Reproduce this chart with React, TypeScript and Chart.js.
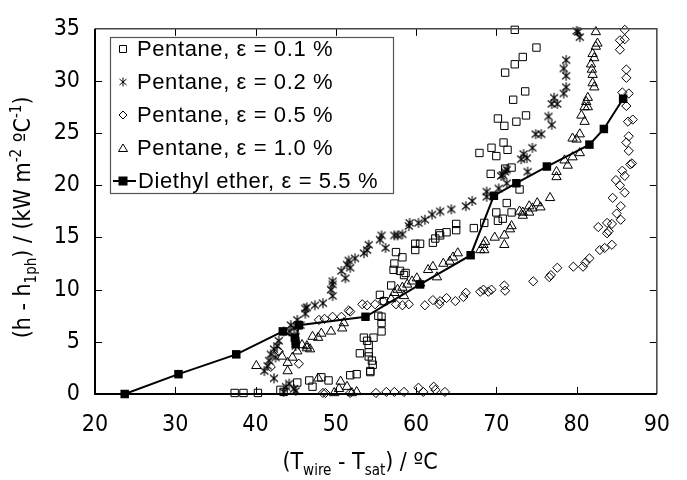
import React, { useEffect, useRef } from 'react';
import { Chart, registerables } from 'chart.js';

Chart.register(...registerables);

// ---------- data ----------
const xRange = [20, 90];
const yRange = [0, 35];
const xStep = 10;
const yStep = 5;

const legendLabels = [
  'Pentane, ε = 0.1 %',
  'Pentane, ε = 0.2 %',
  'Pentane, ε = 0.5 %',
  'Pentane, ε = 1.0 %',
  'Diethyl ether, ε = 5.5 %',
];

const pentane01: [number, number][] = [
  [37.4, 0.1], [38.5, 0.1], [40.3, 0.1], [43.1, 0.4], [43.5, 0.2], [45.2, 1.1], [46.7, 1.3], [47.1, 0.7],
  [48.2, 1.6], [49.1, 1.3], [51.8, 1.8], [52.6, 1.9], [53.0, 3.9], [53.5, 5.4], [54.1, 4.7], [54.1, 4.0],
  [54.5, 3.2], [54.3, 2.2], [54.7, 5.4], [53.9, 5.1], [54.1, 3.6], [54.3, 2.1], [54.6, 2.8], [55.3, 7.5],
  [55.7, 6.8], [55.7, 6.0], [55.7, 7.4], [55.5, 9.5], [56.0, 8.9], [56.9, 10.4], [57.3, 12.5], [57.2, 11.9],
  [58.0, 11.8], [58.5, 11.4], [58.3, 13.1], [57.5, 13.6], [58.7, 11.6], [59.9, 14.4], [60.5, 14.4], [59.9, 13.8],
  [62.1, 14.5], [62.4, 14.9], [62.9, 15.4], [63.0, 15.2], [63.8, 15.5], [65.0, 16.3], [65.0, 15.7], [67.2, 15.9],
  [68.5, 16.4], [70.2, 16.6], [70.8, 16.8], [70.0, 17.4], [71.9, 17.4], [71.3, 18.3], [72.9, 19.6], [69.3, 21.1],
  [71.1, 21.6], [71.9, 21.7], [67.9, 23.1], [70.0, 22.8], [71.4, 23.4], [69.4, 23.6], [70.9, 24.1], [71.0, 25.7],
  [70.2, 26.4], [72.5, 26.1], [73.7, 26.7], [72.1, 28.2], [73.6, 29.0], [71.1, 30.8], [72.3, 31.6], [73.3, 32.3],
  [75.0, 33.2], [72.3, 34.9],
];

const pentane02: [number, number][] = [
  [43.5, 0.2], [43.8, 0.7], [44.2, 1.0], [44.8, 0.5], [45.0, 0.3], [42.3, 1.5], [41.1, 2.2], [41.5, 2.7],
  [41.7, 3.2], [41.9, 3.8], [42.5, 3.5], [42.3, 4.3], [42.7, 4.6], [42.9, 5.1], [43.5, 6.0], [44.2, 6.0],
  [44.8, 6.3], [44.4, 6.6], [45.0, 5.5], [45.0, 5.1], [45.0, 4.6], [45.6, 6.6], [45.2, 7.1], [46.2, 7.7],
  [46.2, 8.2], [46.4, 8.3], [47.4, 8.5], [48.4, 8.7], [49.6, 9.4], [49.4, 10.0], [49.6, 10.5], [49.6, 10.8],
  [51.2, 11.1], [50.7, 11.8], [51.8, 12.1], [51.4, 12.4], [51.6, 12.8], [52.4, 13.0], [53.5, 13.5], [53.9, 13.8],
  [54.1, 14.3], [56.2, 14.0], [55.5, 14.8], [55.7, 15.2], [57.3, 15.2], [57.7, 15.2], [58.3, 15.3], [59.1, 16.1],
  [59.2, 16.4], [60.3, 16.4], [61.1, 16.7], [62.0, 17.2], [63.0, 17.5], [64.4, 17.7], [66.2, 18.0], [67.0, 18.5],
  [68.8, 18.9], [68.8, 19.4], [70.3, 19.7], [71.3, 20.2], [70.6, 20.9], [70.8, 21.0], [71.1, 21.3], [71.3, 21.5],
  [73.9, 21.3], [73.1, 22.5], [73.8, 22.6], [73.4, 23.0], [74.5, 23.6], [74.9, 24.9], [75.6, 24.9], [76.9, 25.8],
  [76.5, 26.6], [76.9, 27.8], [77.6, 27.8], [77.2, 28.4], [78.4, 28.8], [78.7, 29.4], [78.7, 30.5], [78.4, 31.2],
  [78.7, 32.0], [80.0, 34.8], [80.4, 34.2], [80.2, 34.7],
];

const pentane05: [number, number][] = [
  [48.4, 0.1], [48.7, 0.1], [51.8, 0.1], [55.0, 0.1], [56.3, 0.2], [57.3, 0.2], [58.5, 0.2], [60.3, 0.6],
  [60.9, 0.2], [62.2, 0.7], [62.4, 0.4], [63.6, 0.2], [41.9, 2.6], [42.9, 4.1], [45.4, 2.9],
  [47.9, 7.1], [48.6, 7.2], [49.6, 7.4], [50.7, 7.4], [51.6, 8.0], [51.8, 7.9], [53.3, 8.6], [53.9, 8.5],
  [54.9, 8.6], [55.9, 8.9], [57.5, 8.6], [58.3, 8.5], [59.1, 8.6], [61.1, 8.5], [62.1, 9.0], [62.9, 8.6],
  [63.0, 8.9], [63.8, 9.2], [64.9, 8.9], [65.9, 9.3], [66.2, 9.7], [68.0, 9.8], [68.4, 10.0], [69.0, 9.8],
  [69.4, 10.0], [71.0, 10.4], [71.1, 9.9], [74.6, 10.8], [76.6, 11.2], [76.8, 11.4], [77.6, 12.1], [79.6, 12.2],
  [80.8, 12.2], [81.1, 12.6], [81.6, 13.0], [82.9, 13.8], [83.5, 14.0], [84.4, 14.3], [83.8, 15.4], [84.0, 15.6],
  [82.7, 16.0], [83.8, 16.4], [84.4, 16.3], [85.5, 16.7], [85.0, 17.3], [85.5, 18.0], [84.5, 18.8], [86.0, 19.3],
  [85.4, 20.0], [84.9, 20.5], [86.0, 20.9], [85.7, 21.4], [86.7, 22.0], [86.9, 22.1], [86.5, 23.3], [86.2, 24.1],
  [86.5, 24.7], [86.4, 26.1], [87.0, 26.3], [86.2, 27.6], [85.7, 28.9], [86.5, 28.8], [86.2, 30.3], [86.2, 31.1],
  [85.4, 33.0], [85.4, 33.9], [86.0, 34.0], [86.0, 34.9],
];

const pentane10: [number, number][] = [
  [40.1, 2.7], [43.3, 3.6], [44.0, 3.0], [44.0, 2.2], [44.6, 3.5], [45.2, 4.1], [45.8, 4.7], [46.4, 4.6],
  [46.4, 4.4], [46.8, 4.3], [47.1, 5.5], [47.8, 5.4], [48.2, 5.8], [49.4, 6.0], [50.8, 6.3], [51.0, 6.8],
  [47.8, 1.5], [49.8, 0.1], [50.4, 0.5], [50.6, 1.2], [51.4, 0.7], [52.0, 0.1], [52.6, 0.2], [56.9, 9.1],
  [57.3, 9.7], [57.7, 10.0], [58.3, 10.2], [58.9, 10.5], [59.5, 10.8], [60.1, 11.1], [58.5, 9.4], [60.5, 10.6],
  [61.5, 11.9], [62.1, 12.2], [62.6, 11.2], [63.4, 12.5], [64.2, 12.7], [64.6, 13.1], [65.2, 13.5], [68.0, 13.8],
  [68.5, 13.8], [68.4, 14.3], [68.6, 14.6], [69.8, 15.0], [71.0, 15.2], [71.0, 14.3], [71.7, 15.8], [71.9, 16.1],
  [73.3, 17.1], [72.9, 17.5], [73.3, 17.4], [74.1, 17.4], [74.1, 18.0], [74.5, 17.8], [75.1, 18.3], [75.5, 17.9],
  [76.7, 18.8], [77.5, 20.8], [77.5, 21.3], [78.9, 21.9], [78.5, 22.4], [79.5, 22.7], [79.5, 24.5], [80.0, 24.4],
  [80.4, 24.9], [80.4, 23.1], [81.0, 26.1], [80.6, 26.7], [81.0, 27.5], [81.4, 27.5], [81.2, 28.0], [81.4, 28.4],
  [82.2, 29.4], [82.0, 29.8], [82.0, 30.6], [81.9, 31.1], [81.8, 31.6], [82.2, 32.2], [82.0, 32.6], [82.4, 33.3],
  [82.6, 33.6], [82.4, 34.7],
];

const diethylEther: [number, number][] = [
  [23.7, 0.0], [30.4, 1.9], [37.6, 3.8], [43.4, 6.0], [44.9, 5.4], [45.0, 4.8], [45.4, 6.6],
  [53.7, 7.4], [60.5, 10.5], [66.8, 13.3], [69.7, 19.0], [72.5, 20.2], [76.3, 21.8], [81.6, 23.9],
  [83.4, 25.4], [85.8, 28.3],
];

// ---------- helpers ----------
const toXY = (a: [number, number][]) => a.map(([x, y]) => ({ x, y }));

const TICK_FONT = '"DejaVu Sans Condensed", "DejaVu Sans", sans-serif';
const LEGEND_FONT = '"Liberation Sans", Arial, sans-serif';

function makeAsterisk(): HTMLCanvasElement {
  const c = document.createElement('canvas');
  c.width = 12;
  c.height = 12;
  const g = c.getContext('2d')!;
  g.strokeStyle = '#000';
  g.lineWidth = 1.1;
  g.beginPath();
  g.moveTo(6, 1); g.lineTo(6, 11);
  g.moveTo(2, 2.5); g.lineTo(10, 9.5);
  g.moveTo(10, 2.5); g.lineTo(2, 9.5);
  g.stroke();
  return c;
}

type Seg = { t: string; m?: 'sub' | 'sup' };

function drawRich(ctx: CanvasRenderingContext2D, segs: Seg[], size: number, small: number) {
  const fontFor = (s: Seg) => `${s.m ? small : size}px ${TICK_FONT}`;
  let w = 0;
  for (const s of segs) { ctx.font = fontFor(s); w += ctx.measureText(s.t).width; }
  let x = -w / 2;
  ctx.textAlign = 'left';
  ctx.textBaseline = 'alphabetic';
  for (const s of segs) {
    ctx.font = fontFor(s);
    const dy = s.m === 'sub' ? size * 0.28 : s.m === 'sup' ? -size * 0.38 : 0;
    ctx.fillText(s.t, x, dy);
    x += ctx.measureText(s.t).width;
  }
}

const xTitle: Seg[] = [
  { t: '(T' }, { t: 'wire', m: 'sub' }, { t: ' - T' }, { t: 'sat', m: 'sub' }, { t: ') / ºC' },
];
const yTitle: Seg[] = [
  { t: '(h - h' }, { t: '1ph', m: 'sub' }, { t: ') / (kW m' }, { t: '-2', m: 'sup' }, { t: ' ºC' },
  { t: '-1', m: 'sup' }, { t: ')' },
];

const framePlugin = {
  id: 'frameTicks',
  afterDatasetsDraw(chart: any) {
    const { ctx, chartArea: a, scales } = chart;
    const xs = scales.x, ys = scales.y;
    ctx.save();
    const tl = 7;
    ctx.strokeStyle = '#000';
    ctx.lineWidth = 1;
    ctx.beginPath();
    for (let v = xRange[0] + xStep; v < xRange[1]; v += xStep) {
      const px = Math.round(xs.getPixelForValue(v)) + 0.5;
      ctx.moveTo(px, a.bottom); ctx.lineTo(px, a.bottom - tl);
      ctx.moveTo(px, a.top); ctx.lineTo(px, a.top + tl);
    }
    for (let v = yRange[0] + yStep; v < yRange[1]; v += yStep) {
      const py = Math.round(ys.getPixelForValue(v)) + 0.5;
      ctx.moveTo(a.left, py); ctx.lineTo(a.left + tl, py);
      ctx.moveTo(a.right, py); ctx.lineTo(a.right - tl, py);
    }
    ctx.stroke();
    // top & right border
    ctx.strokeStyle = '#444';
    ctx.lineWidth = 1.5;
    ctx.beginPath();
    ctx.moveTo(a.left, a.top); ctx.lineTo(a.right, a.top); ctx.lineTo(a.right, a.bottom);
    ctx.stroke();
    // left & bottom axes
    ctx.strokeStyle = '#000';
    ctx.lineWidth = 2;
    ctx.beginPath();
    ctx.moveTo(a.left, a.top); ctx.lineTo(a.left, a.bottom); ctx.lineTo(a.right, a.bottom);
    ctx.stroke();
    ctx.restore();
  },
  afterDraw(chart: any) {
    const { ctx, chartArea: a } = chart;
    ctx.save();
    ctx.fillStyle = '#000';
    // x title
    ctx.save();
    ctx.translate(360, 469);
    drawRich(ctx, xTitle, 23, 15);
    ctx.restore();
    // y title
    ctx.save();
    ctx.translate(30, (a.top + a.bottom) / 2 + 6);
    ctx.rotate(-Math.PI / 2);
    drawRich(ctx, yTitle, 23, 15);
    ctx.restore();

    // legend
    const bx = 110, by = 37, bw = 283, bh = 156;
    ctx.fillStyle = '#fff';
    ctx.fillRect(bx, by, bw, bh);
    ctx.strokeStyle = '#555';
    ctx.lineWidth = 1.2;
    ctx.strokeRect(bx + 0.5, by + 0.5, bw, bh);
    ctx.font = `22px ${LEGEND_FONT}`;
    try { (ctx as any).letterSpacing = '0.6px'; } catch (e) { /* ignore */ }
    ctx.textAlign = 'left';
    ctx.textBaseline = 'middle';
    const rowY = (i: number) => 49 + i * 33;
    const mx = 123;
    for (let i = 0; i < legendLabels.length; i++) {
      const y = rowY(i);
      ctx.strokeStyle = '#000';
      ctx.fillStyle = '#000';
      ctx.lineWidth = 1;
      ctx.beginPath();
      if (i === 0) {
        ctx.rect(mx - 3.5, y - 3.5, 7, 7);
        ctx.stroke();
      } else if (i === 1) {
        ctx.moveTo(mx, y - 4.5); ctx.lineTo(mx, y + 4.5);
        ctx.moveTo(mx - 3.5, y - 3); ctx.lineTo(mx + 3.5, y + 3);
        ctx.moveTo(mx + 3.5, y - 3); ctx.lineTo(mx - 3.5, y + 3);
        ctx.stroke();
      } else if (i === 2) {
        ctx.moveTo(mx, y - 4); ctx.lineTo(mx + 4, y); ctx.lineTo(mx, y + 4); ctx.lineTo(mx - 4, y); ctx.closePath();
        ctx.stroke();
      } else if (i === 3) {
        ctx.moveTo(mx, y - 4); ctx.lineTo(mx + 4.5, y + 3.5); ctx.lineTo(mx - 4.5, y + 3.5); ctx.closePath();
        ctx.stroke();
      } else {
        ctx.lineWidth = 2;
        ctx.moveTo(113, y); ctx.lineTo(136, y);
        ctx.stroke();
        ctx.fillRect(mx - 4.5, y - 4.5, 9, 9);
      }
      ctx.fillStyle = '#000';
      ctx.fillText(legendLabels[i], i === 4 ? 138 : 137, y + 1);
    }
    ctx.restore();
  },
};

export default function App() {
  const ref = useRef<HTMLCanvasElement | null>(null);

  useEffect(() => {
    if (!ref.current) return;
    const star = makeAsterisk();
    const common = { showLine: false, clip: false as any, borderWidth: 1, borderColor: '#000', backgroundColor: 'rgba(0,0,0,0)' };
    const chart = new Chart(ref.current, {
      type: 'scatter',
      data: {
        datasets: [
          {
            label: legendLabels[4],
            data: toXY(diethylEther),
            showLine: true,
            clip: false as any,
            borderColor: '#000',
            borderWidth: 2,
            backgroundColor: '#000',
            pointStyle: 'rect',
            pointRadius: 6,
            pointBorderWidth: 0,
            pointBackgroundColor: '#000',
            order: 0,
          } as any,
          { ...common, label: legendLabels[0], data: toXY(pentane01), pointStyle: 'rect', pointRadius: 5.2, order: 1 },
          { ...common, label: legendLabels[1], data: toXY(pentane02), pointStyle: star, pointRadius: 6, order: 1 },
          { ...common, label: legendLabels[2], data: toXY(pentane05), pointStyle: 'rectRot', pointRadius: 4.6, order: 1 },
          { ...common, label: legendLabels[3], data: toXY(pentane10), pointStyle: 'triangle', pointRadius: 5.4, order: 1 },
        ] as any,
      },
      options: {
        animation: false,
        responsive: false,
        events: [],
        layout: { padding: { top: 20, right: 17, bottom: 0, left: 0 } },
        plugins: { legend: { display: false }, tooltip: { enabled: false } },
        scales: {
          x: {
            type: 'linear',
            min: xRange[0],
            max: xRange[1],
            ticks: { stepSize: xStep, color: '#000', font: { family: TICK_FONT, size: 23 }, padding: 17, maxRotation: 0 },
            grid: { display: false, drawTicks: false },
            border: { display: false },
            afterFit: (s: any) => { s.height = 86; },
          },
          y: {
            type: 'linear',
            min: yRange[0],
            max: yRange[1],
            ticks: { stepSize: yStep, color: '#000', font: { family: TICK_FONT, size: 23 }, padding: 15 },
            grid: { display: false, drawTicks: false },
            border: { display: false },
            afterFit: (s: any) => { s.width = 95; },
          },
        },
      } as any,
      plugins: [framePlugin],
    });
    return () => chart.destroy();
  }, []);

  return (
    <div style={{ position: 'fixed', left: 0, top: 0, width: 687, height: 480, background: '#fff' }}>
      <canvas ref={ref} width={687} height={480} style={{ display: 'block', width: 687, height: 480 }} />
    </div>
  );
}
